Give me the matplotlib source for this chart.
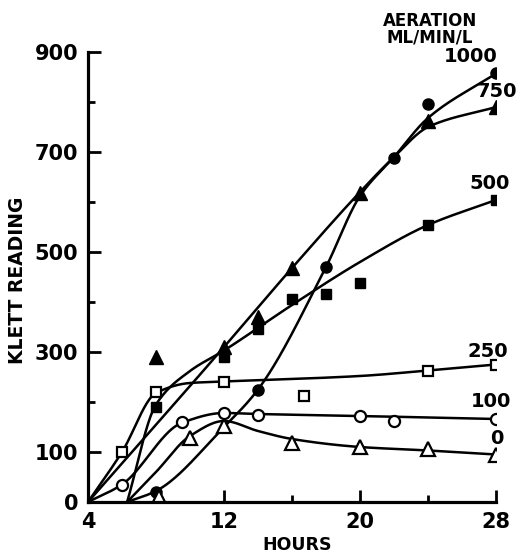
import numpy as np
import matplotlib
matplotlib.use('Agg')
import matplotlib.pyplot as plt

# measured points (markers)
t_1000 = [8, 14, 18, 22, 24, 28]
v_1000 = [20, 225, 470, 688, 795, 857]
t_750 = [8, 12, 14, 16, 20, 24, 28]
v_750 = [290, 310, 370, 468, 618, 762, 790]
t_500 = [8, 12, 14, 16, 18, 20, 24, 28]
v_500 = [190, 290, 346, 406, 416, 438, 554, 604]
t_250 = [6, 8, 12, 16.7, 24, 28]
v_250 = [100, 220, 240, 213, 263, 275]
t_100 = [6, 9.5, 12, 14, 20, 22, 28]
v_100 = [35, 160, 178, 175, 172, 162, 166]
t_0 = [8.2, 10, 12, 16, 20, 24, 28]
v_0 = [10, 128, 152, 118, 110, 106, 94]

# hand-drawn curves
c_1000_t = [6.3, 8, 12, 14, 18, 20, 22, 24, 28]
c_1000_v = [0, 22, 150, 225, 470, 612, 690, 768, 857]
c_750_t = [4, 12, 16, 20, 22, 24, 28]
c_750_v = [0, 310, 468, 620, 690, 750, 790]
c_500_t = [6.3, 8, 10, 12, 16, 20, 24, 28]
c_500_v = [0, 195, 262, 303, 394, 480, 554, 604]
c_250_t = [4, 6, 8, 10, 12, 20, 24, 28]
c_250_v = [0, 100, 218, 238, 241, 252, 263, 275]
c_100_t = [4, 6, 9.5, 12, 14, 20, 28]
c_100_v = [0, 35, 158, 178, 176, 172, 166]
c_0_t = [6.3, 8, 10, 12, 14, 16, 20, 24, 28]
c_0_v = [0, 60, 132, 162, 142, 126, 110, 103, 95]

aeration = ['1000', '750', '500', '250', '100', '0']


def pchip(x, y, xs):
    x = np.asarray(x, float)
    y = np.asarray(y, float)
    h = np.diff(x)
    d = np.diff(y) / h
    m = np.zeros_like(y)
    for k in range(1, len(x) - 1):
        if d[k - 1] * d[k] > 0:
            w1 = 2 * h[k] + h[k - 1]
            w2 = h[k] + 2 * h[k - 1]
            m[k] = (w1 + w2) / (w1 / d[k - 1] + w2 / d[k])
    m[0] = d[0]
    m[-1] = d[-1]
    out = np.empty_like(xs)
    for i, xv in enumerate(xs):
        k = min(np.searchsorted(x, xv, side='right') - 1, len(x) - 2)
        k = max(k, 0)
        s = (xv - x[k]) / h[k]
        h00 = 2 * s**3 - 3 * s**2 + 1
        h10 = s**3 - 2 * s**2 + s
        h01 = -2 * s**3 + 3 * s**2
        h11 = s**3 - s**2
        out[i] = h00 * y[k] + h10 * h[k] * m[k] + h01 * y[k + 1] + h11 * h[k] * m[k + 1]
    return out


plt.rcParams['font.family'] = 'DejaVu Sans'
plt.rcParams['font.weight'] = 'bold'

fig = plt.figure(figsize=(5.16, 5.55), dpi=100)
ax = fig.add_axes([88 / 516, 1 - 502 / 555, 408 / 516, 450 / 555])

lw = 1.8
for ct, cv in [(c_1000_t, c_1000_v), (c_750_t, c_750_v), (c_500_t, c_500_v),
               (c_250_t, c_250_v), (c_100_t, c_100_v), (c_0_t, c_0_v)]:
    xs = np.linspace(ct[0], ct[-1], 300)
    ax.plot(xs, pchip(ct, cv, xs), color='black', lw=lw, solid_capstyle='round')

ax.plot(t_1000, v_1000, 'o', color='black', ms=8, ls='none')
ax.plot(t_750, v_750, '^', color='black', ms=10, ls='none')
ax.plot(t_500, v_500, 's', color='black', ms=6.5, ls='none')
ax.plot(t_250, v_250, 's', mfc='white', mec='black', mew=1.6, ms=6.5, ls='none')
ax.plot(t_100, v_100, 'o', mfc='white', mec='black', mew=1.6, ms=8, ls='none')
ax.plot(t_0, v_0, '^', mfc='white', mec='black', mew=1.6, ms=10, ls='none')

ax.set_xlim(4, 28)
ax.set_ylim(0, 900)
ax.set_xticks([4, 12, 20, 28])
ax.set_xticks([8, 16, 24], minor=True)
ax.set_yticks([0, 100, 300, 500, 700, 900])
ax.set_yticks([200, 400, 600, 800], minor=True)
ax.tick_params(which='major', direction='in', length=9, width=2, labelsize=15, pad=7)
ax.tick_params(which='minor', direction='in', length=5, width=2)
for lab in ax.get_xticklabels() + ax.get_yticklabels():
    lab.set_fontweight('bold')
for side in ['top', 'right']:
    ax.spines[side].set_visible(False)
for side in ['left', 'bottom']:
    ax.spines[side].set_linewidth(2.3)

# curve labels
label_pos = [(26.5, 890), (28.05, 820), (27.6, 636), (27.5, 300), (27.7, 200), (28.05, 126)]
for txt, (x, y) in zip(aeration, label_pos):
    ax.text(x, y, txt, ha='center', va='center', fontsize=14, fontweight='bold', clip_on=False)
fig.text(430 / 516, 1 - 21 / 555, 'AERATION', ha='center', va='center', fontsize=12, fontweight='bold')
fig.text(430 / 516, 1 - 38 / 555, 'ML/MIN/L', ha='center', va='center', fontsize=12, fontweight='bold')

fig.text(18 / 516, 1 - 280 / 555, 'KLETT READING', rotation=90, ha='center', va='center',
         fontsize=13.5, fontweight='bold')
fig.text(297 / 516, 1 - 545 / 555, 'HOURS', ha='center', va='center', fontsize=12.5, fontweight='bold')

fig.savefig('out.png', dpi=100)
